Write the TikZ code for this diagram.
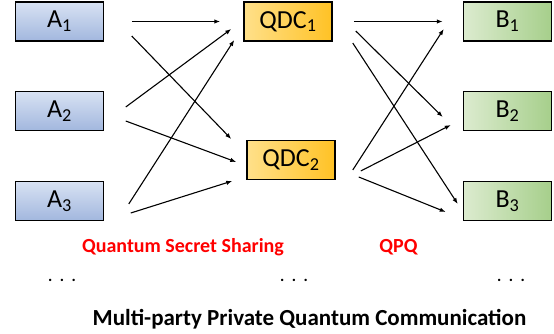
\documentclass[tikz,border=0pt]{standalone}
\usepackage{fontspec}
\setmainfont{Carlito}
\usetikzlibrary{arrows.meta}
\definecolor{aTop}{HTML}{D8E2F3}
\definecolor{aBot}{HTML}{A2B7DE}
\definecolor{qIn}{HTML}{FFE08A}
\definecolor{qOut}{HTML}{FFC225}
\definecolor{bIn}{HTML}{DCEBCF}
\definecolor{bOut}{HTML}{A6CF8B}
\definecolor{labred}{HTML}{FF0000}
\begin{document}
\begin{tikzpicture}[x=1pt, y=-1pt,%
      base/.style={rectangle, minimum width=88pt, minimum height=39pt, draw=black, line width=1.5pt, inner sep=0pt, font=\fontsize{26}{28}\selectfont},
      abox/.style={base, top color=aTop, bottom color=aBot},
      qbox/.style={base, left color=qIn, right color=qOut},
      bbox/.style={base, left color=bIn, right color=bOut},
      arr/.style={-{Latex[length=6pt, width=4.5pt]}, line width=1.1pt},
      redlab/.style={anchor=base, text=labred, font=\fontsize{20}{22}\selectfont\bfseries},
      dotlab/.style={font=\fontsize{16}{18}\selectfont\bfseries}]
      \useasboundingbox (0,0) rectangle (554,334);
      % senders
      \node[abox] (a1) at (59.5,21.5) {A\textsubscript{1}};
      \node[abox] (a2) at (59.5,111) {A\textsubscript{2}};
      \node[abox] (a3) at (59.5,201) {A\textsubscript{3}};
      % distribution centres
      \node[qbox] (q1) at (288,21.5) {QDC\textsubscript{1}};
      \node[qbox] (q2) at (291,160) {QDC\textsubscript{2}};
      % receivers
      \node[bbox] (b1) at (507.5,21.5) {B\textsubscript{1}};
      \node[bbox] (b2) at (507.5,111) {B\textsubscript{2}};
      \node[bbox] (b3) at (507.5,201) {B\textsubscript{3}};
      % A -> QDC
      \draw[arr] ([xshift=27.5pt]a1.east) -- ([xshift=-23pt]q1.west);
      \draw[arr] ([xshift=27.5pt, yshift=-14.5pt]a1.east) -- ([xshift=-15pt, yshift=21pt]q2.west);
      \draw[arr] ([xshift=21.5pt, yshift=4pt]a2.east) -- ([xshift=-12pt, yshift=-7.5pt]q1.west);
      \draw[arr] ([xshift=21.5pt, yshift=-10pt]a2.east) -- ([xshift=-10pt, yshift=-2pt]q2.west);
      \draw[arr] ([xshift=24.5pt, yshift=-3pt]a3.east) -- ([xshift=-9pt, yshift=-18.5pt]q1.west);
      \draw[arr] ([xshift=26.5pt, yshift=-12pt]a3.east) -- ([xshift=-14pt, yshift=-21pt]q2.west);
      % QDC -> B
      \draw[arr] ([xshift=21pt]q1.east) -- ([xshift=-20pt]b1.west);
      \draw[arr] ([xshift=23pt, yshift=-9.5pt]q1.east) -- ([xshift=-20pt, yshift=-6pt]b2.west);
      \draw[arr] ([xshift=20pt, yshift=-21.5pt]q1.east) -- ([xshift=-5pt, yshift=-3pt]b3.west);
      \draw[arr] ([xshift=17pt, yshift=-10pt]q2.east) -- ([xshift=-19pt, yshift=-7.5pt]b1.west);
      \draw[arr] ([xshift=25pt, yshift=-11pt]q2.east) -- ([xshift=-12pt, yshift=-14pt]b2.west);
      \draw[arr] ([xshift=23pt, yshift=-17pt]q2.east) -- ([xshift=-17pt, yshift=-11pt]b3.west);
      % labels
      \node[redlab] (qss) at (183,252) {Quantum Secret Sharing};
      \node[redlab] (qpq) at (398.5,252) {QPQ};
      \node[dotlab] (dotsa) at (62,280) {.\hspace{7.5pt}.\hspace{7.5pt}.};
      \node[dotlab] (dotsq) at (294,280) {.\hspace{7.5pt}.\hspace{7.5pt}.};
      \node[dotlab] (dotsb) at (511,280) {.\hspace{7.5pt}.\hspace{7.5pt}.};
      \node[anchor=base, font=\fontsize{23}{25}\selectfont\bfseries] (title) at (309.5,325) {Multi-party Private Quantum Communication};
\end{tikzpicture}
\end{document}
